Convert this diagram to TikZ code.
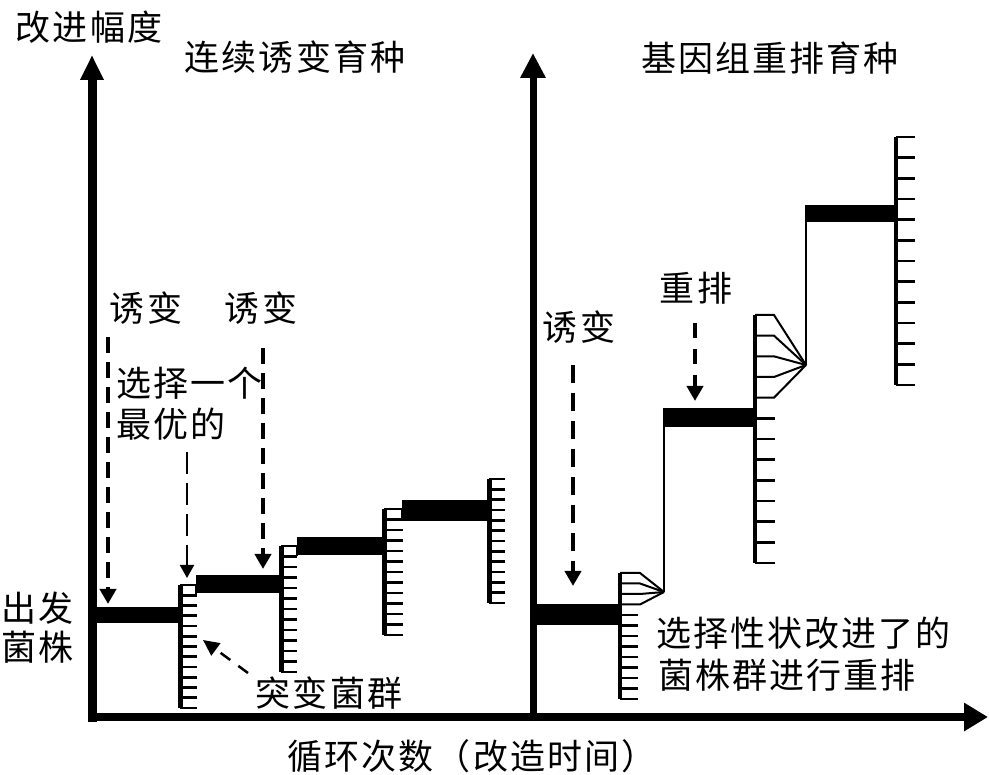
\documentclass[tikz,border=0pt]{standalone}
\usepackage{fontspec}
\newfontfamily\cjk{Noto Sans CJK SC}[LetterSpace=6]
\usetikzlibrary{arrows.meta}
\newcommand\mycomb[6]{%
  \draw[line width=#6] (#1,#2) -- (#1,#3);
  \foreach \i in {#5,...,12} {
    \pgfmathsetmacro\yy{#2+\i*(#3-#2)/12}
    \draw[tick] (#1,\yy) -- (#4,\yy);
  }%
}
\begin{document}
\begin{tikzpicture}[x=1pt,y=-1pt,
  lbl/.style={font=\cjk\fontsize{35}{42}\selectfont, inner sep=0pt},
  tick/.style={line width=2.6pt},
  thinline/.style={line width=2.4pt},
  fanline/.style={line width=2pt, line join=miter},
  dthick/.style={line width=4pt, dash pattern=on 16pt off 9pt, -{Triangle[length=15pt,width=16pt]}},
  dthin/.style={line width=2pt, dash pattern=on 22pt off 9pt, -{Triangle[length=13pt,width=14pt]}},
  dsmall/.style={line width=2.5pt, dash pattern=on 12pt off 10pt, -{Triangle[length=16pt,width=15pt]}},
]
\clip (0,0) rectangle (989,775);
\fill[white] (0,0) rectangle (989,775);

% axes
\coordinate (yL0) at (92,722); \coordinate (yL1) at (92,55);
\draw[line width=9pt, -{Triangle[length=25pt,width=22pt]}] (yL0) -- (yL1);
\coordinate (yR0) at (533,721); \coordinate (yR1) at (533,53);
\draw[line width=7pt, -{Triangle[length=25pt,width=24pt]}] (yR0) -- (yR1);
\coordinate (x0) at (88,717); \coordinate (x1) at (988,717);
\draw[line width=8pt, -{Triangle[length=24pt,width=27pt]}] (x0) -- (x1);

% ---- left panel: continuous mutagenesis
\fill (92,607) rectangle (180,623);
\mycomb{180}{585}{708}{197}{1}{5pt}
\draw[tick] (180,585) -- (196,585) -- (196,595.25);
\fill (196,575) rectangle (281,593);
\mycomb{281}{546}{672}{297}{1}{5pt}
\draw[tick] (281,546) -- (297,546) -- (297,556.5);
\fill (297,537) rectangle (384,555);
\mycomb{384}{509}{635}{403}{1}{5pt}
\draw[tick] (384,509) -- (402,509) -- (402,519.5);
\fill (402,500) rectangle (489,521);
\mycomb{489}{479}{603}{505}{0}{5pt}

% ---- right panel: genome shuffling
\fill (533,604) rectangle (620,625);
\mycomb{620}{573}{699}{638}{4}{4pt}
\coordinate (fanA) at (664,592);
\foreach \i in {0,...,3} {
  \pgfmathsetmacro\yy{573+\i*10.5}
  \draw[fanline] (620,\yy) -- (640,\yy) -- (fanA);
}
\coordinate (barBL) at (664,410);
\draw[thinline] (fanA) -- (barBL);
\fill (663,408) rectangle (755,427);
\mycomb{755}{315}{563}{775}{5}{4pt}
\coordinate (fanB) at (806,365);
\foreach \i in {0,...,4} {
  \pgfmathsetmacro\yy{315+\i*20.667}
  \draw[fanline] (755,\yy) -- (774,\yy) -- (fanB);
}
\coordinate (barCL) at (806,207);
\draw[thinline] (fanB) -- (barCL);
\fill (805,205) rectangle (896,222);
\mycomb{896}{137}{385}{915}{0}{4pt}

% ---- dashed arrows
\coordinate (a1s) at (108,337); \coordinate (a1e) at (108,604);
\draw[dthick] (a1s) -- (a1e);
\coordinate (a2s) at (187,452); \coordinate (a2e) at (187,578);
\draw[dthin] (a2s) -- (a2e);
\coordinate (a3s) at (263,348); \coordinate (a3e) at (263,569);
\draw[dthick] (a3s) -- (a3e);
\coordinate (a4s) at (248,673); \coordinate (a4e) at (203,640);
\draw[dsmall] (a4s) -- (a4e);
\coordinate (a5s) at (573,365); \coordinate (a5e) at (573,586);
\draw[dthick, dash pattern=on 18pt off 10pt] (a5s) -- (a5e);
\coordinate (a6s) at (695,323); \coordinate (a6e) at (695,401);
\draw[dthick, dash pattern=on 15pt off 11pt] (a6s) -- (a6e);

% ---- labels
\node[lbl] (yl) at (89,27) {改进幅度};
\node[lbl] (t1) at (295,57) {连续诱变育种};
\node[lbl] (t2) at (770,58) {基因组重排育种};
\node[lbl] (m1) at (146,308) {诱变};
\node[lbl] (m2) at (261,308) {诱变};
\node[lbl, anchor=west] (s1) at (116,383) {选择一个};
\node[lbl, anchor=west] (s2) at (116,424) {最优的};
\node[lbl] (mu) at (329,693) {突变菌群};
\node[lbl, anchor=west] (st1) at (1,608) {出发};
\node[lbl, anchor=west] (st2) at (1,647) {菌株};
\node[lbl] (m3) at (579,327) {诱变};
\node[lbl] (r1) at (696,288) {重排};
\node[lbl, anchor=west] (c1) at (656,633) {选择性状改进了的};
\node[lbl, anchor=west] (c2) at (658,675) {菌株群进行重排};
\node[lbl] (xl) at (472,756) {循环次数（改造时间）};
\end{tikzpicture}
\end{document}
